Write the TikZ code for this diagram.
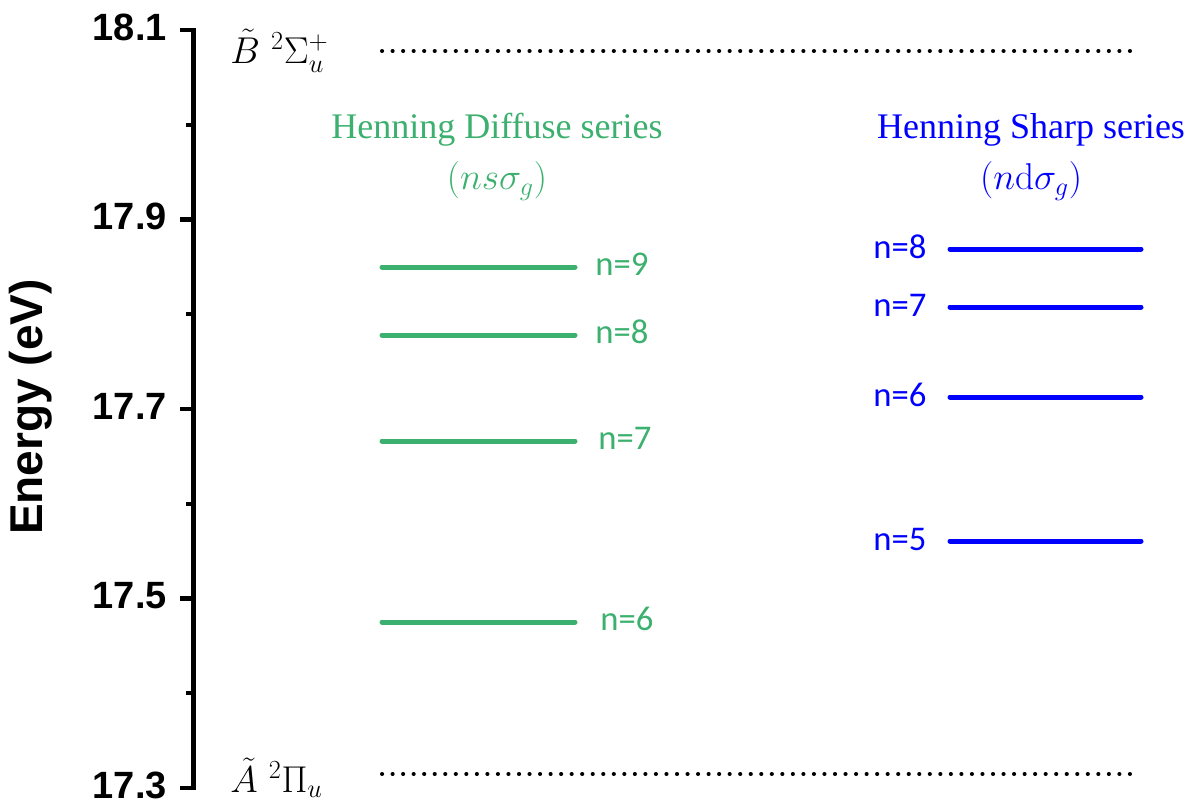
\RequirePackage{fix-cm}
\documentclass[tikz,border=0pt]{standalone}
\usepackage{fontspec}
\newfontfamily\axisfont{Liberation Sans}
\newfontfamily\headfont{Liberation Serif}
\newfontfamily\lblfont{Carlito}
\definecolor{sgreen}{RGB}{60,176,110}
\definecolor{sblue}{RGB}{0,0,255}
\tikzset{
  ticklabel/.style={anchor=east, inner sep=0pt, font=\axisfont\bfseries\fontsize{28.5}{30}\selectfont},
  majortick/.style={line width=3.5pt},
  minortick/.style={line width=3pt},
  level/.style={line width=3.75pt, line cap=round},
  dotline/.style={line width=3pt, line cap=round, dash pattern=on 0.1pt off 7.8pt},
  nlabel/.style={inner sep=0pt, font=\lblfont\fontsize{26}{28}\selectfont},
  headtext/.style={inner sep=0pt, font=\headfont\fontsize{27}{30}\selectfont},
  mathtext/.style={inner sep=0pt, font=\fontsize{28}{31}\selectfont},
  statelabel/.style={anchor=west, inner sep=0pt, font=\fontsize{28}{31}\selectfont},
}
\begin{document}
\begin{tikzpicture}[x=0.75pt, y=-0.75pt]
\useasboundingbox (0,0) rectangle (1194,802);
% axis
\coordinate (atop) at (193,28);
\coordinate (abot) at (193,790);
\draw[line width=3.75pt] (atop) -- (abot);
\foreach \yy/\lab [count=\i] in {30/18.1, 219.5/17.9, 409/17.7, 598.5/17.5, 788/17.3}{
  \coordinate (mt\i) at (180,\yy);
  \coordinate (ma\i) at (193,\yy);
  \draw[majortick] (mt\i) -- (ma\i);
  \node[ticklabel] (tl\i) at (167,\yy-3) {\lab};
}
\foreach \yy [count=\i] in {124.75, 314.25, 503.75, 693.25}{
  \coordinate (nt\i) at (186,\yy);
  \coordinate (na\i) at (193,\yy);
  \draw[minortick] (nt\i) -- (na\i);
}
\node[rotate=90, inner sep=0pt, font=\axisfont\bfseries\fontsize{34.5}{36}\selectfont] (ylab) at (31,407) {Energy (eV)};
% state lines
\coordinate (bs) at (382,51);
\coordinate (be) at (1140,51);
\draw[dotline] (bs) -- (be);
\coordinate (as) at (382,774);
\coordinate (ae) at (1140,774);
\draw[dotline] (as) -- (ae);
\node[statelabel] (Blab) at (230,51) {$\tilde{B}\ {}^2\Sigma_u^+$};
\node[statelabel] (Alab) at (230,778) {$\tilde{A}\ {}^2\Pi_u$};
% headings
\node[headtext, text=sgreen] (gh1) at (497,130) {Henning Diffuse series};
\node[mathtext, text=sgreen] (gh2) at (497,181) {$(ns\sigma_g)$};
\node[headtext, text=sblue] (bh1) at (1031,130) {Henning Sharp series};
\node[mathtext, text=sblue] (bh2) at (1031,181) {$(n\mathrm{d}\sigma_g)$};
% green levels
\foreach \yy/\n/\lx in {267/9/622, 335/8/622, 441/7/625, 622/6/627}{
  \coordinate (gs\n) at (382,\yy);
  \coordinate (ge\n) at (575,\yy);
  \draw[level, sgreen] (gs\n) -- (ge\n);
  \node[nlabel, text=sgreen] (gl\n) at (\lx,\yy-3) {n=\n};
}
% blue levels
\foreach \yy/\n in {249/8, 307/7, 397/6, 541/5}{
  \coordinate (bs\n) at (950,\yy);
  \coordinate (be\n) at (1141,\yy);
  \draw[level, sblue] (bs\n) -- (be\n);
  \node[nlabel, text=sblue] (bl\n) at (900,\yy-2) {n=\n};
}
\end{tikzpicture}
\end{document}
